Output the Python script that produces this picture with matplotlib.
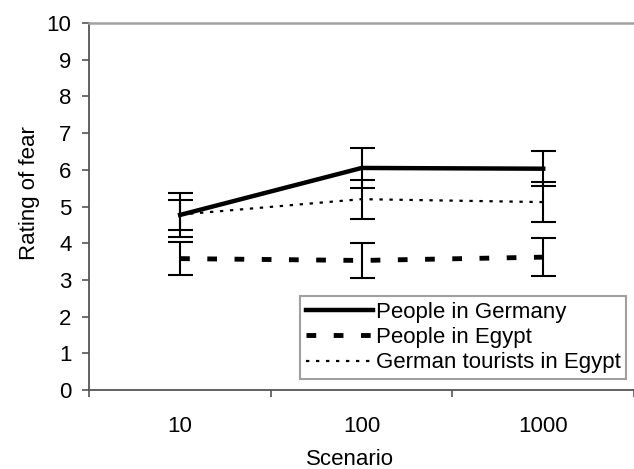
import matplotlib
matplotlib.use("Agg")
import matplotlib.pyplot as plt
from matplotlib.lines import Line2D
import numpy as np

plt.rcParams['font.family'] = ['Liberation Sans', 'DejaVu Sans']

scenarios = ["10", "100", "1000"]
germany = [4.77, 6.05, 6.03]
germany_err = [0.60, 0.55, 0.48]
egypt = [3.58, 3.53, 3.62]
egypt_err = [0.44, 0.48, 0.51]
tourists = [4.78, 5.20, 5.12]
tourists_err = [0.41, 0.53, 0.55]
series_labels = ['People in Germany', 'People in Egypt', 'German tourists in Egypt']

x = np.arange(len(scenarios))
FS = 16

fig = plt.figure(figsize=(6.34, 4.69), dpi=100)
ax = fig.add_axes([0.140, 0.1684, 0.860, 0.7826])

styles = [dict(lw=3.2), dict(lw=3.5, dashes=(2.0, 3.6)), dict(lw=1.6, dashes=(1.5, 3.0))]
handles = []
for vals, errs, st, lab in zip([germany, egypt, tourists],
                               [germany_err, egypt_err, tourists_err],
                               styles, series_labels):
    ax.errorbar(x, vals, yerr=errs, color='black', elinewidth=1.5, capsize=9,
                capthick=1.5, zorder=3, **st)
    handles.append(Line2D([], [], color='black', **st))

ax.set_ylim(0, 10)
ax.set_yticks(range(0, 11))
ax.set_xlim(-0.503, 2.443)
ax.set_xticks([-0.5, 0.5, 1.5, 2.5])
ax.set_xticklabels([])
ax.set_xticks(x, minor=True)
ax.set_xticklabels(scenarios, minor=True)
ax.tick_params(axis='x', which='minor', length=0, pad=19, labelsize=FS)
ax.tick_params(axis='x', which='major', length=5, width=1.2, color='#555555', direction='out')
ax.tick_params(axis='y', length=5, width=1.2, color='#555555', direction='out', labelsize=FS, pad=7.5)

ax.spines['right'].set_visible(False)
ax.spines['top'].set_color('#a0a0a0')
ax.spines['top'].set_linewidth(1.8)
for s in ['left', 'bottom']:
    ax.spines[s].set_color('#555555')
    ax.spines[s].set_linewidth(1.3)

ax.set_ylabel('Rating of fear', fontsize=FS)
ax.set_xlabel('Scenario', fontsize=FS)
ax.yaxis.set_label_coords(-0.108, 0.537)
ax.xaxis.set_label_coords(0.479, -0.19)
ax.xaxis.label.set_va('center')
ax.yaxis.label.set_va('center')

leg = ax.legend(handles, series_labels, loc='lower left', bbox_to_anchor=(0.388, 0.03),
                fontsize=FS, frameon=True, fancybox=False, handlelength=3.0,
                handletextpad=0.15, borderpad=0.25, labelspacing=0.2, borderaxespad=0)
leg.get_frame().set_edgecolor('#888888')
leg.get_frame().set_linewidth(1.5)

fig.savefig('out.png', dpi=100)
